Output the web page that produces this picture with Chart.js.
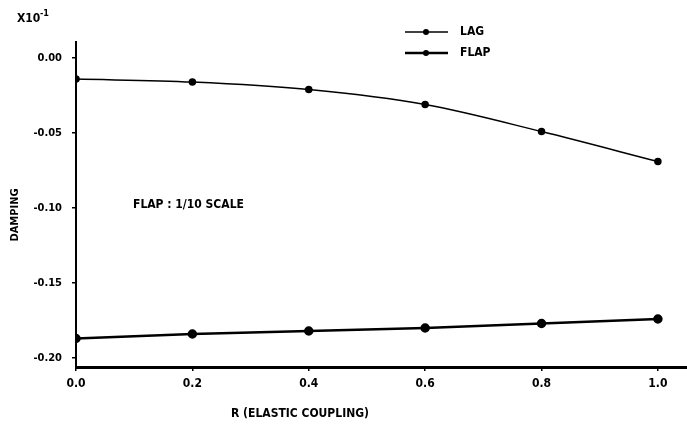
<!DOCTYPE html>
<html><head><meta charset="utf-8">
<script src="https://cdn.jsdelivr.net/npm/chart.js@4/dist/chart.umd.min.js"></script>
<style>html,body{margin:0;padding:0;background:#fff;}#wrap{width:687px;height:428px;}</style>
</head><body><div id="wrap"><canvas id="c" width="687" height="428"></canvas></div>
<script>
const couplingR = [0.0, 0.2, 0.4, 0.6, 0.8, 1.0];
const lagDamping = [-0.014, -0.016, -0.021, -0.031, -0.049, -0.069];
const flapDamping = [-0.187, -0.184, -0.182, -0.180, -0.177, -0.174];
const xTickValues = [0, 0.2, 0.4, 0.6, 0.8, 1.0];
const xTickLabels = ['0.0', '0.2', '0.4', '0.6', '0.8', '1.0'];
const yTickValues = [0, -0.05, -0.10, -0.15, -0.20];
const yTickLabels = ['0.00', '-0.05', '-0.10', '-0.15', '-0.20'];
const seriesNames = ['LAG', 'FLAP'];
const xTitle = 'R (ELASTIC COUPLING)';
const yTitle = 'DAMPING';
const scaleNote = 'FLAP : 1/10 SCALE';

const FONT = "'Liberation Sans Narrow', 'Arial Narrow', 'DejaVu Sans Condensed', sans-serif";

const extras = {
  id: 'extras',
  afterDraw(chart) {
    const ctx = chart.ctx;
    ctx.save();
    ctx.fillStyle = '#000';
    ctx.strokeStyle = '#000';
    // exponent label
    ctx.font = 'bold 12px ' + FONT;
    ctx.textBaseline = 'middle';
    ctx.textAlign = 'left';
    ctx.fillText('X10', 17, 19);
    ctx.font = 'bold 9px ' + FONT;
    ctx.fillText('-1', 40, 14);
    // legend
    const legendY = [32, 53];
    chart.data.datasets.forEach((ds, i) => {
      const y = legendY[i];
      ctx.lineWidth = ds.borderWidth;
      ctx.beginPath(); ctx.moveTo(405, y); ctx.lineTo(448, y); ctx.stroke();
      ctx.beginPath(); ctx.arc(426, y, 3, 0, Math.PI * 2); ctx.fill();
      ctx.font = 'bold 12px ' + FONT;
      ctx.fillText(ds.label, 460, y);
    });
    // note
    ctx.font = 'bold 12px ' + FONT;
    ctx.fillText(scaleNote, 133, 205);
    // axis titles
    ctx.textAlign = 'center';
    ctx.fillText(xTitle, 300, 414);
    ctx.save();
    ctx.translate(15, 215);
    ctx.rotate(-Math.PI / 2);
    ctx.font = 'bold 11px ' + FONT;
    ctx.fillText(yTitle, 0, 0);
    ctx.restore();
    ctx.restore();
  }
};

new Chart(document.getElementById('c'), {
  type: 'line',
  data: {
    datasets: [
      { label: seriesNames[0], data: couplingR.map((x, i) => ({ x, y: lagDamping[i] })),
        borderColor: '#000', backgroundColor: '#000', borderWidth: 1.5, pointRadius: 3,
        pointBackgroundColor: '#000', cubicInterpolationMode: 'monotone' },
      { label: seriesNames[1], data: couplingR.map((x, i) => ({ x, y: flapDamping[i] })),
        borderColor: '#000', backgroundColor: '#000', borderWidth: 2.5, pointRadius: 3.5,
        pointBackgroundColor: '#000', cubicInterpolationMode: 'monotone' }
    ]
  },
  options: {
    responsive: false,
    animation: false,
    devicePixelRatio: 1,
    layout: { padding: { top: 42, left: 0, right: 0, bottom: 0 }, autoPadding: false },
    plugins: { legend: { display: false }, tooltip: { enabled: false } },
    scales: {
      x: {
        type: 'linear', min: 0, max: 1.05,
        afterFit(s) { s.height = 61; },
        afterBuildTicks(s) { s.ticks = xTickValues.map(v => ({ value: v })); },
        ticks: { callback: (v, i) => xTickLabels[i], color: '#000', padding: 6,
                 font: { family: FONT, weight: 'bold', size: 12 }, maxRotation: 0, autoSkip: false },
        grid: { drawOnChartArea: false, drawTicks: true, tickLength: 4, color: '#000', lineWidth: 1.5 },
        border: { display: true, color: '#000', width: 3 }
      },
      y: {
        type: 'linear', min: -0.206, max: 0.0107,
        afterFit(s) { s.width = 76; },
        afterBuildTicks(s) { s.ticks = yTickValues.map(v => ({ value: v })); },
        ticks: { callback: (v, i) => yTickLabels[i], color: '#000', padding: 10,
                 font: { family: FONT, weight: 'bold', size: 11 }, autoSkip: false },
        grid: { drawOnChartArea: false, drawTicks: true, tickLength: 4, color: '#000', lineWidth: 1.5 },
        border: { display: true, color: '#000', width: 2 }
      }
    }
  },
  plugins: [extras]
});
</script></body></html>
